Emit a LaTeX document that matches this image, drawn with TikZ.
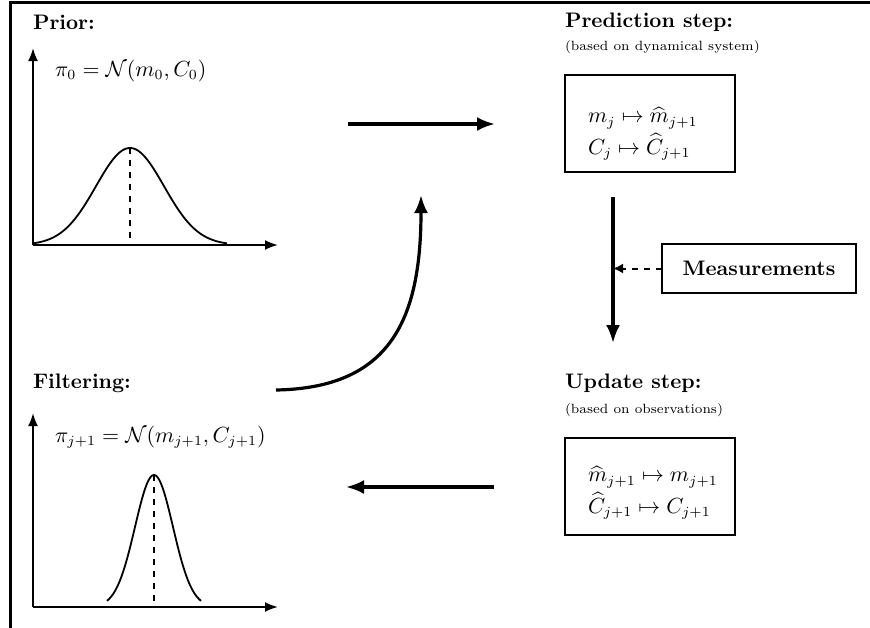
\documentclass[tikz,border=0pt]{standalone}
\usepackage{amsmath,amssymb}
\usetikzlibrary{arrows.meta}
\begin{document}
\begin{tikzpicture}[x=0.5pt,y=-0.5pt,
  every node/.style={inner sep=0pt,outer sep=0pt},
  txt/.style={font=\fontsize{10.5}{12.6}\selectfont},
  ttl/.style={font=\fontsize{10.5}{12.6}\selectfont\bfseries,anchor=west},
  sub/.style={font=\fontsize{6.7}{8}\selectfont,anchor=west},
  stepbox/.style={draw,line width=1pt,minimum width=85pt,minimum height=48.5pt,anchor=north west},
  axis/.style={line width=1pt,-{Latex[length=6.5pt,width=5pt]}},
  bigarrow/.style={line width=1.6pt,-{Latex[length=9pt,width=7pt]}},
  curve/.style={line width=0.9pt},
  meanline/.style={line width=0.8pt,dashed}]
\useasboundingbox (0,0) rectangle (870,627);
% frame
\draw[line width=1.5pt] (870,2) -- (10,2) -- (10,630);

% Prior
\node[ttl] (prior) at (33,22) {Prior:};
\coordinate (o1) at (33,245);
\draw[axis] (o1) -- (33,48);
\draw[axis] (o1) -- (278,245);
\draw[curve] plot[domain=-97:97,samples=120] ({130+\x},{245-97*exp(-(\x/34)^2/2)});
\draw[meanline] (130,148) -- (130,245);
\node[txt,anchor=west] (pi0) at (55,71) {$\pi_0=\mathcal{N}(m_0,C_0)$};

% Filtering
\node[ttl] (filt) at (33,383) {Filtering:};
\coordinate (o2) at (33,607);
\draw[axis] (o2) -- (33,413);
\draw[axis] (o2) -- (278,607);
\draw[curve] plot[domain=-47:47,samples=120] ({154+\x},{607-132*exp(-(\x/19)^2/2)});
\draw[meanline] (154,475) -- (154,607);
\node[txt,anchor=west] (pij) at (55,437) {$\pi_{j+1}=\mathcal{N}(m_{j+1},C_{j+1})$};

% Prediction
\node[ttl] (pred) at (565,22) {Prediction step:};
\node[sub] (predsub) at (565,47) {(based on dynamical system)};
\node[stepbox] (pbox) at (565,75) {};
\node[txt,anchor=west] (pline1) at (588,118) {$m_j\mapsto\widehat{m}_{j+1}$};
\node[txt,anchor=west] (pline2) at (588,147) {$C_j\mapsto\widehat{C}_{j+1}$};

% Update
\node[ttl] (upd) at (565,383) {Update step:};
\node[sub] (updsub) at (565,410) {(based on observations)};
\node[stepbox] (ubox) at (565,438) {};
\node[txt,anchor=west] (uline1) at (588,477) {$\widehat{m}_{j+1}\mapsto m_{j+1}$};
\node[txt,anchor=west] (uline2) at (588,506) {$\widehat{C}_{j+1}\mapsto C_{j+1}$};

% Measurements
\node[draw,line width=1pt,minimum width=97pt,minimum height=24.5pt,font=\fontsize{10.5}{12.6}\selectfont\bfseries] (meas) at (759,268.5) {Measurements};

% arrows
\coordinate (a1) at (348,124);
\coordinate (a2) at (495,124);
\draw[bigarrow] (a1) -- (a2);
\coordinate (v1) at (613,197);
\coordinate (v2) at (613,343);
\draw[bigarrow] (v1) -- (v2);
\coordinate (vm) at (613,268.5);
\draw[line width=1pt,dashed,-{Latex[length=5pt,width=5pt]}] (meas.west) -- (vm);
\coordinate (b1) at (494,487);
\coordinate (b2) at (346,487);
\draw[bigarrow] (b1) -- (b2);
\coordinate (c1) at (276,390);
\coordinate (c2) at (421,195);
\draw[bigarrow] (c1) .. controls (390,388) and (421,320) .. (c2);
\end{tikzpicture}
\end{document}
